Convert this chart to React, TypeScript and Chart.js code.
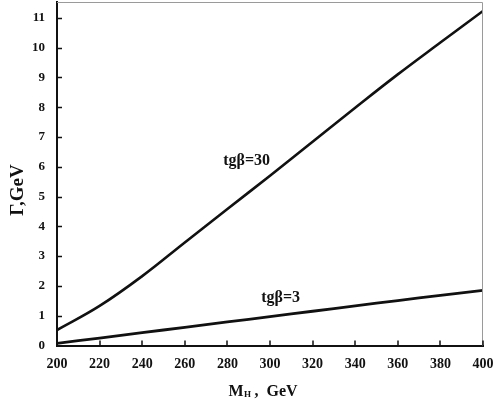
import React, { useEffect, useRef } from "react";
import { Chart, registerables } from "chart.js";

Chart.register(...registerables);

const massValues = [200, 220, 240, 260, 280, 300, 320, 340, 360, 380, 400];
const widthTan30 = [0.52, 1.33, 2.33, 3.46, 4.58, 5.7, 6.84, 7.98, 9.1, 10.17, 11.23];
const widthTan3 = [0.07, 0.25, 0.43, 0.61, 0.79, 0.97, 1.15, 1.33, 1.51, 1.68, 1.85];
const xTicks = [200, 220, 240, 260, 280, 300, 320, 340, 360, 380, 400];
const yTicks = [0, 1, 2, 3, 4, 5, 6, 7, 8, 9, 10, 11];
const seriesLabels = ["tgβ=30", "tgβ=3"];
const labelPositions = [
  { x: 289, y: 6.19 },
  { x: 305, y: 1.59 },
];
const xTitleMain = "M";
const xTitleSub = "H";
const xTitleRest = " ,  GeV";
const yTitle = "Γ,GeV";

const FONT = "'Liberation Serif', 'Times New Roman', serif";

const decorPlugin = {
  id: "decor",
  afterDraw(chart: any) {
    const ctx = chart.ctx as CanvasRenderingContext2D;
    const xs = chart.scales.x;
    const ys = chart.scales.y;
    const area = chart.chartArea;
    ctx.save();
    ctx.strokeStyle = "#9a9a9a";
    ctx.lineWidth = 1;
    ctx.beginPath();
    ctx.moveTo(area.left, area.top + 0.5);
    ctx.lineTo(area.right - 0.5, area.top + 0.5);
    ctx.lineTo(area.right - 0.5, area.bottom);
    ctx.stroke();
    ctx.strokeStyle = "#111";
    ctx.lineWidth = 1.5;
    ctx.beginPath();
    yTicks.forEach((v) => {
      if (v === 0) return;
      const py = Math.round(ys.getPixelForValue(v)) + 0.5;
      ctx.moveTo(area.left, py);
      ctx.lineTo(area.left + 5, py);
    });
    xTicks.forEach((v) => {
      if (v === 200) return;
      const px = Math.round(xs.getPixelForValue(v));
      ctx.moveTo(px, area.bottom);
      ctx.lineTo(px, area.bottom - 5);
    });
    ctx.stroke();
    ctx.fillStyle = "#111";
    ctx.font = `bold 16px ${FONT}`;
    ctx.textAlign = "center";
    ctx.textBaseline = "middle";
    seriesLabels.forEach((t, i) => {
      const p = labelPositions[i];
      ctx.fillText(t, xs.getPixelForValue(p.x), ys.getPixelForValue(p.y));
    });
    const cx = 263;
    const ty = 396;
    ctx.textBaseline = "alphabetic";
    ctx.textAlign = "left";
    ctx.font = `bold 16px ${FONT}`;
    const wM = ctx.measureText(xTitleMain).width;
    ctx.font = `bold 9px ${FONT}`;
    const wS = ctx.measureText(xTitleSub).width;
    ctx.font = `bold 16px ${FONT}`;
    const wR = ctx.measureText(xTitleRest).width;
    let sx = cx - (wM + wS + wR) / 2;
    ctx.fillText(xTitleMain, sx, ty);
    sx += wM;
    ctx.font = `bold 9px ${FONT}`;
    ctx.fillText(xTitleSub, sx + 0.5, ty + 1);
    sx += wS;
    ctx.font = `bold 16px ${FONT}`;
    ctx.fillText(xTitleRest, sx, ty);
    ctx.save();
    ctx.translate(18, 190);
    ctx.rotate(-Math.PI / 2);
    ctx.textAlign = "center";
    ctx.textBaseline = "middle";
    ctx.font = `bold 19px ${FONT}`;
    ctx.fillText(yTitle, 0, 0);
    ctx.restore();
    ctx.restore();
  },
};

export default function App() {
  const ref = useRef<HTMLCanvasElement | null>(null);
  useEffect(() => {
    if (!ref.current) return;
    const chart = new Chart(ref.current, {
      type: "line",
      data: {
        datasets: [
          {
            label: seriesLabels[0],
            data: massValues.map((m, i) => ({ x: m, y: widthTan30[i] })),
            borderColor: "#111",
            borderWidth: 2.6,
            pointRadius: 0,
            tension: 0.4,
            fill: false,
          },
          {
            label: seriesLabels[1],
            data: massValues.map((m, i) => ({ x: m, y: widthTan3[i] })),
            borderColor: "#111",
            borderWidth: 2.8,
            pointRadius: 0,
            tension: 0.4,
            fill: false,
          },
        ],
      },
      options: {
        responsive: false,
        animation: false,
        layout: { padding: { left: 0, right: 10, top: 2, bottom: 0 } },
        plugins: { legend: { display: false }, tooltip: { enabled: false } },
        scales: {
          x: {
            type: "linear",
            min: 200,
            max: 400,
            afterBuildTicks: (s: any) => {
              s.ticks = xTicks.map((v) => ({ value: v }));
            },
            afterFit: (s: any) => {
              s.height = 57.5;
              s.paddingLeft = 0;
              s.paddingRight = 0;
            },
            grid: { display: false, drawTicks: false },
            border: { display: true, color: "#111", width: 2 },
            ticks: {
              color: "#111",
              padding: 10,
              maxRotation: 0,
              font: { family: FONT, size: 14, weight: "bold" },
            },
          },
          y: {
            type: "linear",
            min: 0,
            max: 11.53,
            afterBuildTicks: (s: any) => {
              s.ticks = yTicks.map((v) => ({ value: v }));
            },
            afterFit: (s: any) => {
              s.width = 57;
              s.paddingTop = 0;
              s.paddingBottom = 0;
            },
            grid: { display: false, drawTicks: false },
            border: { display: true, color: "#111", width: 2 },
            ticks: {
              color: "#111",
              padding: 12,
              font: { family: FONT, size: 13, weight: "bold" },
            },
          },
        },
      },
      plugins: [decorPlugin],
    } as any);
    return () => chart.destroy();
  }, []);
  return (
    <div style={{ position: "absolute", left: 0, top: 0, width: 493, height: 403, background: "#fff" }}>
      <canvas ref={ref} width={493} height={403} style={{ display: "block" }} />
    </div>
  );
}
